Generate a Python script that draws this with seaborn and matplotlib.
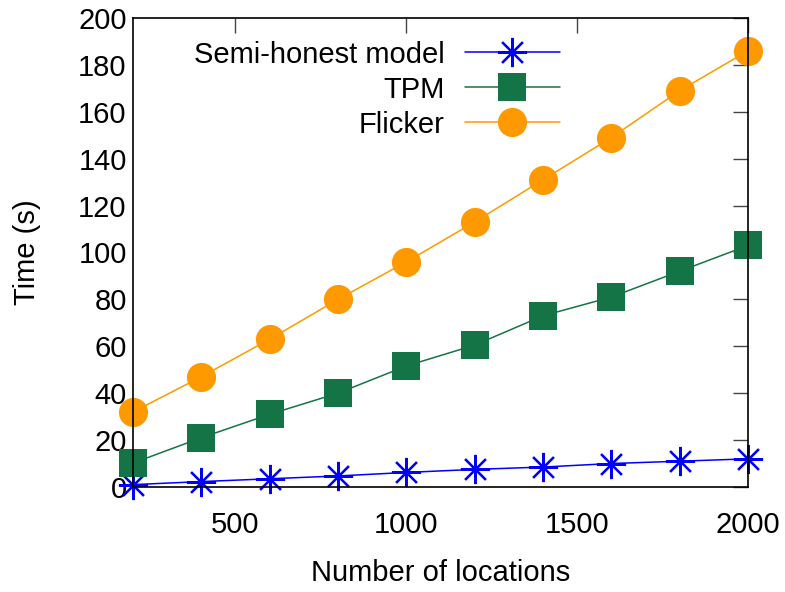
import matplotlib
matplotlib.use("Agg")
import matplotlib.pyplot as plt
import seaborn as sns
import pandas as pd

locations = [200, 400, 600, 800, 1000, 1200, 1400, 1600, 1800, 2000]
semi_honest = [1.0, 2.3, 3.5, 4.7, 6.2, 7.5, 8.5, 10.0, 11.0, 12.0]
tpm = [10.2, 21.0, 31.0, 40.0, 51.6, 60.5, 73.0, 81.0, 92.0, 103.0]
flicker = [32.0, 47.0, 63.0, 80.0, 96.0, 113.0, 131.0, 149.0, 169.0, 186.0]

series_names = ["Semi-honest model", "TPM", "Flicker"]
x_ticks = [500, 1000, 1500, 2000]
y_ticks = list(range(0, 201, 20))

sns.set_style("white")
plt.rcParams["font.family"] = ["Liberation Sans", "DejaVu Sans"]
plt.rcParams["text.color"] = "black"
plt.rcParams["axes.labelcolor"] = "black"

FS = 21

fig = plt.figure(figsize=(7.85, 5.92), dpi=100)
ax = fig.add_axes([0.1694, 0.1774, 0.7835, 0.7922])

df = pd.DataFrame({"x": locations * 3,
                   "y": semi_honest + tpm + flicker,
                   "s": [n for n in series_names for _ in locations]})

styles = {
    "Semi-honest model": dict(color="#0000ff", marker=(8, 2, 0), ms=21, mew=1.6),
    "TPM": dict(color="#157445", marker="s", ms=20, mew=0),
    "Flicker": dict(color="#ff9900", marker="o", ms=21, mew=0),
}
for name in series_names:
    st = styles[name]
    sub = df[df.s == name]
    sns.lineplot(data=sub, x="x", y="y", ax=ax, color=st["color"], lw=1.1,
                 marker=st["marker"], markersize=st["ms"], markeredgewidth=st["mew"],
                 markeredgecolor=st["color"], label=name, clip_on=False, zorder=3)

ax.set_xlim(200, 2000)
ax.set_ylim(0, 200)
ax.set_xticks(x_ticks)
ax.set_yticks(y_ticks)
ax.tick_params(direction="in", length=11, width=1, color="#444444",
               top=True, right=True, labelsize=FS, labelcolor="black")
ax.tick_params(axis="y", pad=4.5)
ax.tick_params(axis="x", pad=17)
for sp in ax.spines.values():
    sp.set_color("black")
    sp.set_linewidth(1.2)
    sp.set_zorder(4)

ax.set_xlabel("Number of locations", fontsize=FS, labelpad=15)
ax.set_ylabel("Time (s)", fontsize=FS, labelpad=27)

leg = ax.legend(loc="upper right", bbox_to_anchor=(0.694, 0.95), frameon=False,
                markerfirst=False, fontsize=FS, handlelength=3.26,
                labelspacing=0.24, handletextpad=0.69, borderaxespad=0,
                borderpad=0)
for t in leg.get_texts():
    t.set_ha("right")
leg._legend_box.align = "right"
for vp in leg._legend_handle_box.get_children():
    for child in vp.get_children():
        child.align = "right"

fig.savefig("out.png", dpi=100)
